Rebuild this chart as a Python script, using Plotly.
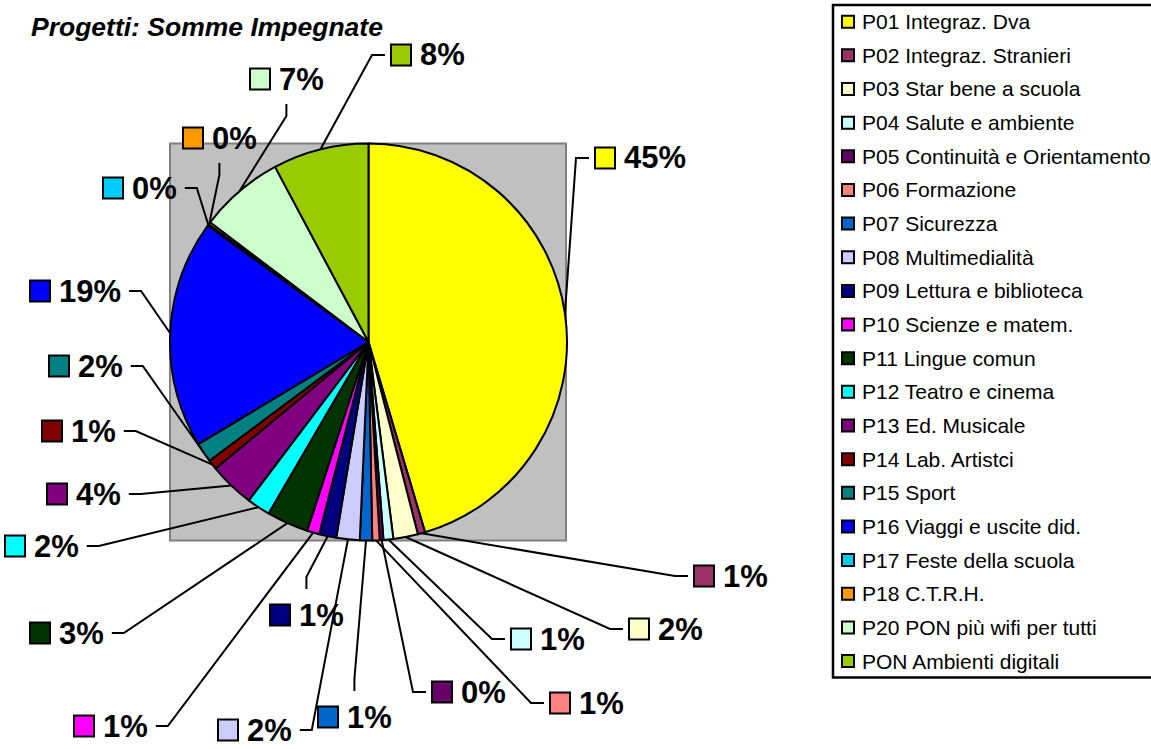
import math
import plotly.graph_objects as go

W, H = 1151, 749

# ---------------- data ----------------
projects = [
    "P01 Integraz. Dva", "P02 Integraz. Stranieri", "P03 Star bene a scuola",
    "P04 Salute e ambiente", "P05 Continuità e Orientamento", "P06 Formazione",
    "P07 Sicurezza", "P08 Multimedialità", "P09 Lettura e biblioteca",
    "P10 Scienze e matem.", "P11 Lingue comun", "P12 Teatro e cinema",
    "P13 Ed. Musicale", "P14 Lab. Artistci", "P15 Sport",
    "P16 Viaggi e uscite did.", "P17 Feste della scuola", "P18 C.T.R.H.",
    "P20 PON più wifi per tutti", "PON Ambienti digitali",
]
shares = [45.4, 0.6, 2.0, 0.8, 0.3, 0.6, 1.0, 1.9, 1.4, 1.0,
          3.4, 1.9, 3.7, 0.8, 1.6, 18.6, 0.1, 0.2, 6.9, 7.8]
colors = ["#FFFF00", "#993366", "#FFFFCC", "#CCFFFF", "#660066", "#FF8080",
          "#0066CC", "#CCCCFF", "#000080", "#FF00FF", "#003300", "#00FFFF",
          "#800080", "#800000", "#008080", "#0000FF", "#00CCFF", "#FF9900",
          "#CCFFCC", "#99CC00"]
title_text = "Progetti: Somme Impegnate"

# ---------------- layout (pixels) ----------------
# data-label placement: key-square left x, centre y, side where leader attaches
label_pos = [
    (595, 158, "R"), (694, 576, "R"), (629, 629, "R"), (511, 639, "R"),
    (432, 692, "R"), (550, 703, "R"), (318, 717, "T"), (218, 730, "L"),
    (270, 615, "T"), (74, 726, "L"), (30, 633, "L"), (5, 546, "L"),
    (47, 494, "L"), (42, 431, "L"), (49, 366, "L"), (30, 291, "L"),
    (103, 188, "L"), (183, 138, "B"), (250, 79, "B"), (391, 55, "R"),
]
CX, CY, R = 368.5, 342.0, 198.5
FONT = "Liberation Sans, Arial, sans-serif"
LBL_SIZE = 31
LEG_X, LEG_Y0, LEG_DY, LEG_SIZE = 833, 21.7, 33.65, 21


def px(x):
    return x / W


def py(y):
    return 1 - y / H


def text_w(s, size):
    wid = {"%": 0.889}
    return sum(wid.get(c, 0.556) for c in s) * size


fig = go.Figure()
fig.add_trace(go.Pie(
    labels=projects, values=shares, sort=False, direction="clockwise",
    rotation=0, textinfo="none", showlegend=False,
    marker=dict(colors=colors, line=dict(color="black", width=2)),
    domain=dict(x=[px(CX - R), px(CX + R)], y=[py(CY + R), py(CY - R)]),
    hoverinfo="label+percent",
))

shapes = []
annotations = []

# plot-area background square
shapes.append(dict(type="rect", xref="paper", yref="paper", layer="below",
                   x0=px(CX - R), x1=px(CX + R - 1), y0=py(CY + R), y1=py(CY - R),
                   fillcolor="#C0C0C0", line=dict(color="#808080", width=2)))

total = sum(shares)
cum = 0.0
for i, v in enumerate(shares):
    mid = (cum + v / 2) / total * 2 * math.pi
    cum += v
    ex, ey = CX + R * math.sin(mid), CY - R * math.cos(mid)
    pct = v / total * 100
    txt = f"{int(math.floor(pct + 0.5))}%"
    sx, cy, side = label_pos[i]
    tw = text_w(txt, LBL_SIZE)
    right = sx + 28 + tw
    cx = (sx + right) / 2
    if side == "R":
        end, elb = (sx - 6, cy), (sx - 19, cy)
    elif side == "L":
        end, elb = (right + 9, cy), (right + 21, cy)
    elif side == "T":
        end, elb = (cx, cy - 26), (cx, cy - 38)
    else:
        end, elb = (cx, cy + 25), (cx, cy + 37)
    path = (f"M {px(ex)},{py(ey)} L {px(elb[0])},{py(elb[1])} "
            f"L {px(end[0])},{py(end[1])}")
    shapes.append(dict(type="path", xref="paper", yref="paper", path=path,
                       line=dict(color="black", width=2)))
    shapes.append(dict(type="rect", xref="paper", yref="paper",
                       x0=px(sx), x1=px(sx + 20), y0=py(cy + 10.5), y1=py(cy - 10.5),
                       fillcolor=colors[i], line=dict(color="black", width=2)))
    annotations.append(dict(xref="paper", yref="paper", x=px(sx + 27), y=py(cy),
                            xanchor="left", yanchor="middle", showarrow=False,
                            text=f"<b>{txt}</b>",
                            font=dict(family=FONT, size=LBL_SIZE, color="black")))

# legend box
legend_bottom = LEG_Y0 + LEG_DY * (len(projects) - 1) + 16.5
shapes.append(dict(type="rect", xref="paper", yref="paper",
                   x0=px(LEG_X), x1=px(W + 20), y0=py(legend_bottom), y1=py(5),
                   fillcolor="white", line=dict(color="black", width=2.5)))
for i, name in enumerate(projects):
    ly = LEG_Y0 + LEG_DY * i
    shapes.append(dict(type="rect", xref="paper", yref="paper",
                       x0=px(LEG_X + 9), x1=px(LEG_X + 21), y0=py(ly + 6), y1=py(ly - 6),
                       fillcolor=colors[i], line=dict(color="black", width=2)))
    annotations.append(dict(xref="paper", yref="paper", x=px(LEG_X + 27), y=py(ly),
                            xanchor="left", yanchor="middle", showarrow=False,
                            text=name,
                            font=dict(family=FONT, size=LEG_SIZE, color="black")))

annotations.append(dict(xref="paper", yref="paper", x=px(29), y=py(27),
                        xanchor="left", yanchor="middle", showarrow=False,
                        text=f"<b><i>{title_text}</i></b>",
                        font=dict(family=FONT, size=26.5, color="black")))

fig.update_layout(
    width=W, height=H, showlegend=False,
    margin=dict(l=0, r=0, t=0, b=0, pad=0, autoexpand=False),
    paper_bgcolor="white", plot_bgcolor="white",
    shapes=shapes, annotations=annotations,
)

fig.write_html("out.html", config={"displayModeBar": False},
               post_script="document.body.style.margin='0';document.body.style.overflow='hidden';")
